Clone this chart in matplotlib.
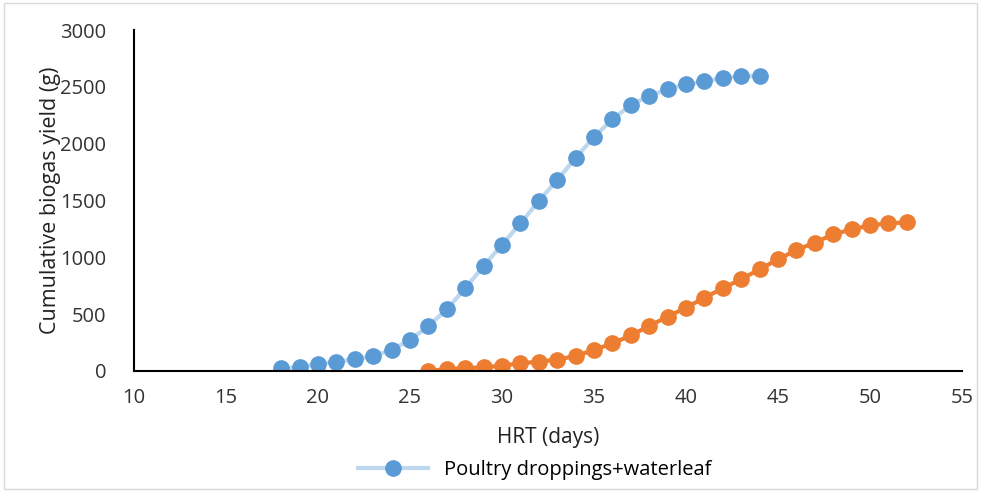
import matplotlib.pyplot as plt
from matplotlib.patches import Rectangle

plt.rcParams['font.family'] = ['Open Sans', 'DejaVu Sans']

# HRT (days) and cumulative biogas yield (g)
days_pw = list(range(18, 45))
yield_pw = [24, 32, 62, 82, 103, 132, 185, 273, 396, 543, 727, 923, 1111, 1298,
            1496, 1680, 1875, 2058, 2214, 2340, 2419, 2480, 2521, 2548, 2577, 2592, 2597]

days_2 = list(range(26, 53))
yield_2 = [3, 15, 26, 32, 47, 68, 82, 100, 132, 185, 243, 313, 396, 478, 557,
           645, 727, 809, 894, 982, 1064, 1129, 1202, 1246, 1281, 1299, 1308]

blue = '#5B9BD5'
orange = '#ED7D31'

fig = plt.figure(figsize=(9.81, 4.91), dpi=100)
ax = fig.add_axes([0.1366, 0.2444, 0.844, 0.6945])

ax.plot(days_pw, yield_pw, color='#BDD7EE', linewidth=3, marker='o',
        markersize=11, markerfacecolor=blue, markeredgecolor=blue,
        label='Poultry droppings+waterleaf', zorder=3)
ax.plot(days_2, yield_2, color=orange, linewidth=3, marker='o',
        markersize=11, markerfacecolor=orange, markeredgecolor=orange, zorder=3)

ax.set_xlim(10, 55)
ax.set_ylim(0, 3000)
ax.set_xticks(range(10, 60, 5))
ax.set_yticks(range(0, 3500, 500))
ax.spines['top'].set_visible(False)
ax.spines['right'].set_visible(False)
ax.spines['left'].set_linewidth(1.5)
ax.spines['bottom'].set_linewidth(1.5)
ax.spines['bottom'].set_zorder(4)
ax.tick_params(length=0, labelsize=14.5, colors='#333333')
ax.tick_params(axis='y', pad=20)
ax.tick_params(axis='x', pad=12)

ax.set_xlabel('HRT (days)', fontsize=15, color='#222222', labelpad=14)
ax.set_ylabel('Cumulative biogas yield (g)', fontsize=15.5, color='#222222')
ax.yaxis.set_label_coords(-0.088, 0.5)

fig.legend(loc='center', bbox_to_anchor=(0.545, 0.043), frameon=False,
           fontsize=14.5, handlelength=3.5, borderpad=0, borderaxespad=0)

fig.patches.append(Rectangle((0.004, 0.004), 0.992, 0.99, transform=fig.transFigure,
                             fill=False, edgecolor='#D9D9D9', linewidth=1))

fig.savefig('out.png', dpi=100)
